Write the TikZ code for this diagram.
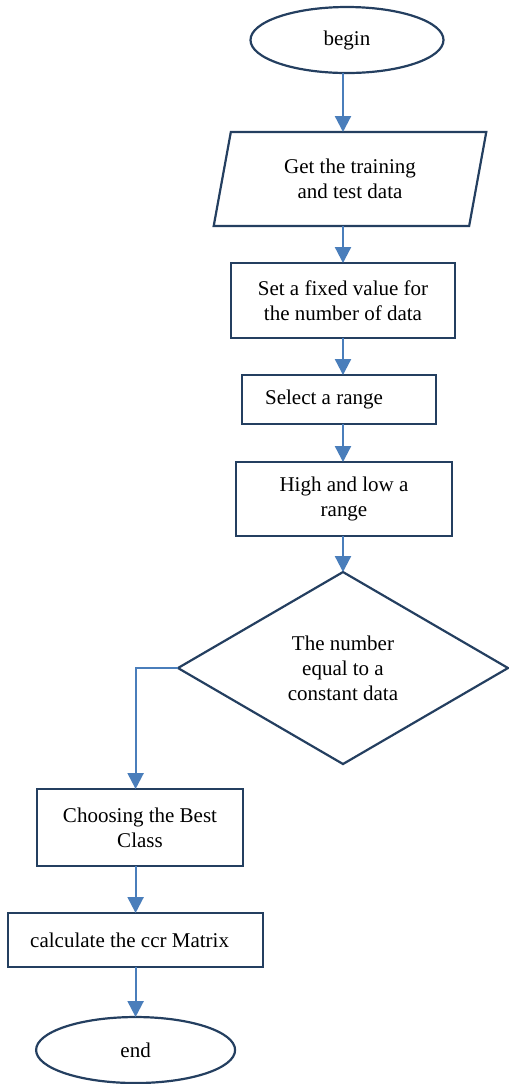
\documentclass[tikz,border=0pt]{standalone}
\usepackage{fontspec}
\setmainfont{Liberation Serif}
\usetikzlibrary{arrows.meta,positioning,shapes.geometric}
\definecolor{edg}{HTML}{243F60}
\definecolor{lnk}{HTML}{4A7EBB}

\begin{document}
\begin{tikzpicture}[
    base/.style={draw=edg,line width=1.1pt,inner sep=0pt,outer sep=0pt,font=\fontsize{10.5}{12.5}\selectfont,align=center},
    box/.style={base,rectangle},
    term/.style={base,ellipse,minimum height=33pt},
    io/.style={base,trapezium,trapezium left angle=76.6,trapezium right angle=103.4,trapezium stretches=true},
    dec/.style={base,diamond},
    flow/.style={->,draw=lnk,line width=1.1pt},
    >={Triangle[length=8pt,width=8pt]}]
    \useasboundingbox (0,0) rectangle (254.5pt,-542pt);
    \node[term,minimum width=96.5pt] (begin) at (173.5pt,-20pt) {begin};
    \node[io,minimum width=137pt,minimum height=47pt,below=29.5pt of begin,xshift=1.5pt] (getdata) {Get the training\\and test data};
    \node[box,minimum width=112pt,minimum height=37.5pt,below=18.5pt of getdata,xshift=-3.5pt] (fixed) {Set a fixed value for\\the number of data};
    \node[box,minimum width=97pt,minimum height=24.5pt,below=18.5pt of fixed,xshift=-2pt] (range) {Select a range\hspace*{15pt}};
    \node[box,minimum width=108pt,minimum height=37pt,below=19pt of range,xshift=2.5pt] (hilo) {High and low a\\range};
    \node[dec,minimum width=165pt,minimum height=96pt,below=18pt of hilo,xshift=-0.5pt] (test) {The number\\equal to a\\constant data};
    \node[box,minimum width=103pt,minimum height=38.5pt,below=12.5pt of test,xshift=-101.5pt] (best) {Choosing the Best\\Class};
    \node[box,minimum width=127.5pt,minimum height=27pt,below=23.5pt of best,xshift=-2.2pt] (calc) {calculate the ccr Matrix\hspace*{6pt}};
    \node[term,minimum width=99.5pt,below=25pt of calc] (finish) {end};
    \draw[flow] (begin.south -| fixed) -- (getdata.north -| fixed);
    \draw[flow] (getdata.south -| fixed) -- (fixed);
    \draw[flow] (fixed) -- (fixed |- range.north);
    \draw[flow] (range.south -| fixed) -- (fixed |- hilo.north);
    \draw[flow] (hilo.south -| fixed) -- (test);
    \draw[flow] (test.west) -| (best.north -| calc);
    \draw[flow] (best.south -| calc) -- (calc);
    \draw[flow] (calc) -- (finish);
  \end{tikzpicture}
\end{document}
